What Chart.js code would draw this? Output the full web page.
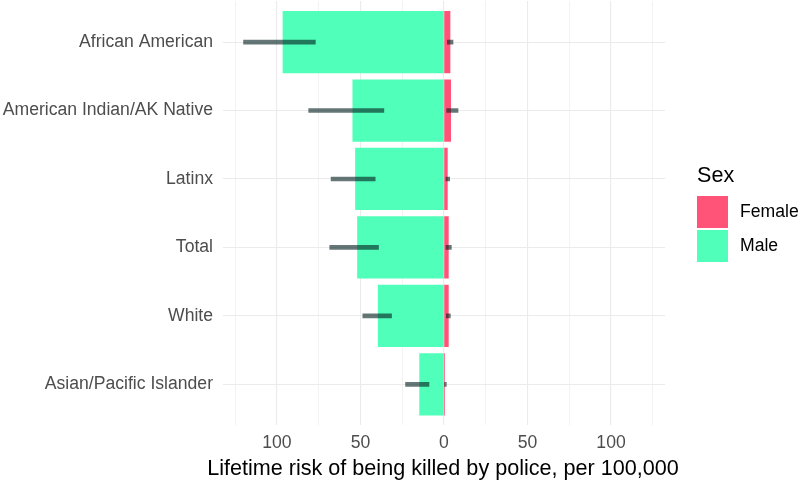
<!DOCTYPE html>
<html>
<head>
<meta charset="utf-8">
<script src="https://cdn.jsdelivr.net/npm/chart.js@4.4.1/dist/chart.umd.min.js"></script>
<style>
  html, body { margin: 0; padding: 0; background: #ffffff; }
  #wrap { position: relative; width: 800px; height: 482px; font-family: "Liberation Sans", Arial, sans-serif; }
  #wrap canvas { position: absolute; left: 0; top: 0; }
  .lg { position: absolute; color: #000; white-space: nowrap; line-height: 1; }
  .key { position: absolute; width: 31px; height: 32px; }
  #xtitle { position: absolute; left: 143px; width: 600px; text-align: center; top: 456.7px; font-size: 21.6px; line-height: 1; color: #000; white-space: nowrap; }
</style>
</head>
<body>
<div id="wrap">
  <canvas id="c" width="800" height="482"></canvas>
  <div id="xtitle">Lifetime risk of being killed by police, per 100,000</div>
  <div class="lg" style="left:697px; top:164px; font-size:21.6px;">Sex</div>
  <div class="key" style="left:697px; top:196px; background:#FF5377;"></div>
  <div class="lg" style="left:740px; top:203px; font-size:17.6px;">Female</div>
  <div class="key" style="left:697px; top:230px; background:#50FFB9;"></div>
  <div class="lg" style="left:740px; top:237px; font-size:17.6px;">Male</div>
</div>
<script>
// ---- data ----
const categories = ["African American", "American Indian/AK Native", "Latinx", "Total", "White", "Asian/Pacific Islander"];
const maleRisk   = [96.4, 54.6, 53.0, 51.8, 39.4, 14.6];
const maleLow    = [77.0, 36.0, 41.2, 39.2, 31.4, 9.0];
const maleHigh   = [120.0, 81.0, 67.6, 68.4, 48.6, 23.0];
const femaleRisk = [3.6, 4.0, 2.0, 2.6, 2.6, 0.4];
const femaleLow  = [2.0, 1.6, 1.2, 1.2, 1.4, 0.0];
const femaleHigh = [5.4, 8.4, 3.4, 4.4, 3.8, 1.4];
const xTickValues = [-100, -50, 0, 50, 100];

const MALE = "#50FFB9", FEMALE = "#FF5377", ERR = "rgba(0,28,28,0.6)";

const maleBars   = categories.map((c, i) => ({ x: -maleRisk[i], y: i }));
const femaleBars = categories.map((c, i) => ({ x: femaleRisk[i], y: i }));
const maleErr    = categories.map((c, i) => ({ x: [-maleHigh[i], -maleLow[i]], y: i }));
const femaleErr  = categories.map((c, i) => ({ x: [femaleLow[i], femaleHigh[i]], y: i }));

new Chart(document.getElementById("c"), {
  type: "bar",
  data: {
    datasets: [
      { label: "maleErr", data: maleErr, backgroundColor: ERR, barThickness: 4, grouped: false, order: 0 },
      { label: "femaleErr", data: femaleErr, backgroundColor: ERR, barThickness: 4, grouped: false, order: 0 },
      { label: "Female", data: femaleBars, backgroundColor: FEMALE, grouped: false, barPercentage: 0.9, categoryPercentage: 1, inflateAmount: 0.33, order: 1 },
      { label: "Male", data: maleBars, backgroundColor: MALE, grouped: false, barPercentage: 0.9, categoryPercentage: 1, inflateAmount: 0.33, order: 1 }
    ]
  },
  options: {
    indexAxis: "y",
    responsive: false,
    animation: false,
    devicePixelRatio: 1,
    layout: { padding: { left: 0, right: 135, top: 1, bottom: 0 } },
    plugins: { legend: { display: false }, tooltip: { enabled: false } },
    scales: {
      x: {
        type: "linear",
        min: -132.3,
        max: 132.3,
        afterFit: (s) => { s.height = 56.6; s.paddingLeft = 0; s.paddingRight = 0; },
        border: { display: false },
        grid: {
          color: "#ebebeb",
          lineWidth: (ctx) => (ctx.tick && xTickValues.includes(ctx.tick.value)) ? 1.1 : 0.6,
          drawTicks: false
        },
        ticks: {
          stepSize: 25,
          includeBounds: false,
          autoSkip: false,
          maxRotation: 0,
          padding: 7,
          color: "#4d4d4d",
          font: { family: "'Liberation Sans', Arial, sans-serif", size: 17.6 },
          callback: (v) => xTickValues.includes(v) ? String(Math.abs(v)) : ""
        }
      },
      y: {
        type: "linear",
        reverse: true,
        offset: false,
        min: -0.6,
        max: 5.6,
        afterFit: (s) => { s.width = 223; s.paddingTop = 0; s.paddingBottom = 0; },
        border: { display: false },
        grid: { color: "#ebebeb", lineWidth: 1.1, drawTicks: false, offset: false },
        ticks: {
          stepSize: 1,
          includeBounds: false,
          autoSkip: false,
          padding: 10,
          color: "#4d4d4d",
          font: { family: "'Liberation Sans', Arial, sans-serif", size: 17.6 },
          callback: (v) => (Number.isInteger(v) && categories[v] !== undefined) ? categories[v] : ""
        }
      }
    }
  }
});
</script>
</body>
</html>
